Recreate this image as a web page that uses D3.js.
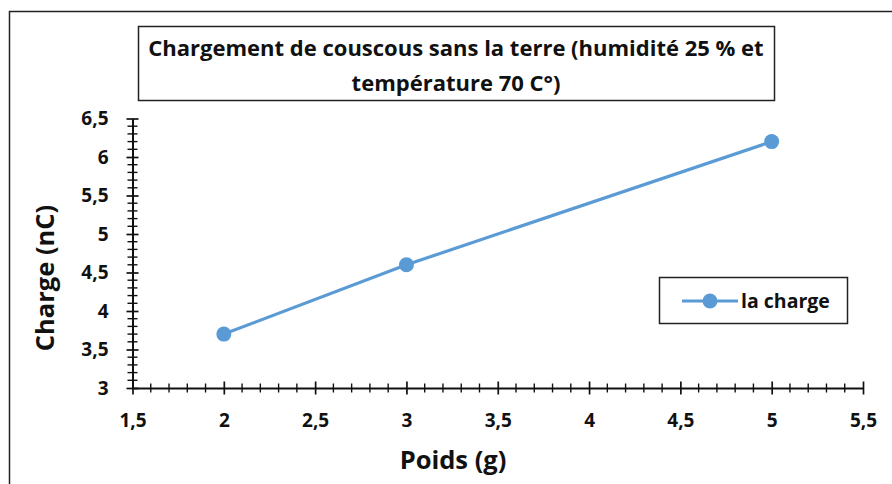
<!DOCTYPE html>
<html><head><meta charset="utf-8">
<script src="https://cdn.jsdelivr.net/npm/d3@7"></script>
<style>
html,body{margin:0;padding:0;background:#fff;}
svg{display:block;font-family:"Open Sans",sans-serif;font-weight:bold;}
</style></head>
<body>
<svg id="c" width="892" height="484"></svg>
<script>
const titleLines = ["Chargement de couscous sans la terre (humidité 25 % et", "température 70 C°)"];
const xTitle = "Poids (g)";
const yTitle = "Charge (nC)";
const seriesName = "la charge";
const poids = [2, 3, 5];
const charge = [3.7, 4.6, 6.2];
const xTicks = [1.5, 2, 2.5, 3, 3.5, 4, 4.5, 5, 5.5];
const yTicks = [3, 3.5, 4, 4.5, 5, 5.5, 6, 6.5];

const FONT = "'Open Sans', sans-serif";
const svg = d3.select("#c");
const fmt = v => String(v).replace(".", ",");

// outer chart border
svg.append("rect").attr("x", 9.5).attr("y", 11.5).attr("width", 900).attr("height", 500)
  .attr("fill", "#fff").attr("stroke", "#222").attr("stroke-width", 1.5);

const x = d3.scaleLinear().domain([1.5, 5.5]).range([132.5, 863]);
const y = d3.scaleLinear().domain([3, 6.5]).range([388, 118.5]);

// minor ticks
const xMinor = d3.range(15, 56).map(v => v / 10).filter(v => !xTicks.some(t => Math.abs(t - v) < 1e-9));
const yMinor = d3.range(30, 66).map(v => v / 10).filter(v => !yTicks.some(t => Math.abs(t - v) < 1e-9));

const g = svg.append("g");
g.selectAll(".xm").data(xMinor).join("line")
  .attr("x1", d => x(d)).attr("x2", d => x(d)).attr("y1", y(3) - 4.5).attr("y2", y(3) + 4.5)
  .attr("stroke", "#111").attr("stroke-width", 1.4);
g.selectAll(".ym").data(yMinor).join("line")
  .attr("y1", d => y(d)).attr("y2", d => y(d)).attr("x1", x(1.5) - 5).attr("x2", x(1.5) + 5)
  .attr("stroke", "#111").attr("stroke-width", 1.4);

// axes
const xAxis = svg.append("g").attr("transform", `translate(0,${y(3)})`)
  .call(d3.axisBottom(x).tickValues(xTicks).tickFormat(fmt).tickSizeInner(6.5).tickSizeOuter(0).tickPadding(19));
xAxis.selectAll(".tick line").attr("y1", -6.5).attr("stroke", "#111").attr("stroke-width", 1.7);
xAxis.select(".domain").attr("stroke", "#111").attr("stroke-width", 2);
xAxis.selectAll("text").attr("font-size", 19).attr("font-weight", "bold").attr("fill", "#111")
  .attr("font-family", FONT);

const yAxis = svg.append("g").attr("transform", `translate(${x(1.5)},0)`)
  .call(d3.axisLeft(y).tickValues(yTicks).tickFormat(fmt).tickSizeInner(6).tickSizeOuter(0).tickPadding(18));
yAxis.selectAll(".tick line").attr("x1", 6).attr("stroke", "#111").attr("stroke-width", 1.7);
yAxis.select(".domain").attr("stroke", "#111").attr("stroke-width", 2);
yAxis.selectAll("text").attr("font-size", 19).attr("font-weight", "bold").attr("fill", "#111")
  .attr("font-family", FONT);

// series
const data = poids.map((p, i) => ({x: p, y: charge[i]}));
svg.append("path").datum(data)
  .attr("d", d3.line().x(d => x(d.x)).y(d => y(d.y)))
  .attr("fill", "none").attr("stroke", "#5B9BD5").attr("stroke-width", 3.2);
svg.selectAll(".pt").data(data).join("circle")
  .attr("cx", d => x(d.x)).attr("cy", d => y(d.y)).attr("r", 7.5).attr("fill", "#5B9BD5");

// title box
svg.append("rect").attr("x", 138.5).attr("y", 26.5).attr("width", 636).attr("height", 74)
  .attr("fill", "#fff").attr("stroke", "#222").attr("stroke-width", 1.5);
svg.selectAll(".tl").data(titleLines).join("text")
  .attr("x", 456).attr("y", (d, i) => 56 + i * 35)
  .attr("text-anchor", "middle").attr("font-size", 22).attr("fill", "#111").text(d => d);

// axis titles
svg.append("text").attr("x", 453).attr("y", 469).attr("text-anchor", "middle")
  .attr("font-size", 25.5).attr("fill", "#111").text(xTitle);
svg.append("text").attr("transform", "translate(54,278) rotate(-90)").attr("text-anchor", "middle")
  .attr("font-size", 25.5).attr("fill", "#111").text(yTitle);

// legend
svg.append("rect").attr("x", 659.5).attr("y", 277.5).attr("width", 188).attr("height", 46)
  .attr("fill", "#fff").attr("stroke", "#222").attr("stroke-width", 1.5);
svg.append("line").attr("x1", 682).attr("x2", 738).attr("y1", 301).attr("y2", 301)
  .attr("stroke", "#5B9BD5").attr("stroke-width", 3.2);
svg.append("circle").attr("cx", 710).attr("cy", 301).attr("r", 7.5).attr("fill", "#5B9BD5");
svg.append("text").attr("x", 741).attr("y", 308).attr("font-size", 19.5).attr("fill", "#111").text(seriesName);
</script>
</body></html>
